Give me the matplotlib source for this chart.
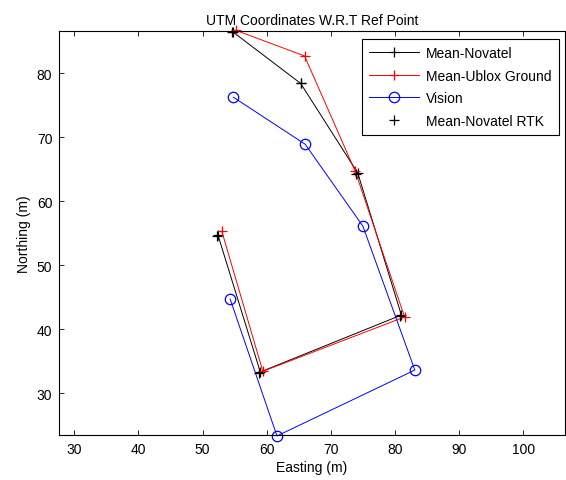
import matplotlib.pyplot as plt

plt.rcParams['font.family'] = ['Liberation Sans', 'DejaVu Sans']
plt.rcParams['font.size'] = 10

# mean positions along the route (easting, northing in metres)
novatel_e = [52.4, 59.0, 81.0, 74.2, 65.3, 54.8]
novatel_n = [54.7, 33.3, 42.2, 64.4, 78.4, 86.4]

ublox_e = [53.0, 59.4, 81.5, 73.8, 65.9, 55.2]
ublox_n = [55.3, 33.4, 41.9, 64.7, 82.7, 86.7]

vision_e = [54.3, 61.6, 83.1, 75.0, 66.0, 54.8]
vision_n = [44.7, 23.3, 33.6, 56.1, 68.9, 76.25]

rtk_e = [52.2, 58.8, 80.8, 74.0, 65.4, 54.6]
rtk_n = [54.6, 33.1, 42.0, 64.2, 78.5, 86.5]

fig = plt.figure(figsize=(5.66, 4.81), dpi=100)
ax = fig.add_axes([0.1048, 0.0942, 0.8932, 0.8393])

ax.plot(novatel_e, novatel_n, color='k', lw=0.7, marker='+', ms=7, mew=0.9,
        label='Mean-Novatel', clip_on=False)
ax.plot(ublox_e, ublox_n, color='r', lw=0.7, marker='+', ms=7, mew=0.9,
        label='Mean-Ublox Ground', clip_on=False)
ax.plot(vision_e, vision_n, color='b', lw=0.7, marker='o', ms=7.5, mew=0.9,
        mfc='none', label='Vision', clip_on=False)
ax.plot(rtk_e, rtk_n, color='k', ls='none', marker='+', ms=7, mew=0.9,
        label='Mean-Novatel RTK', clip_on=False)

ax.set_xlim(27.66, 106.5)
ax.set_ylim(23.5, 86.6)
ax.set_xticks(range(30, 101, 10))
ax.set_yticks(range(30, 81, 10))
ax.tick_params(direction='in', length=3.5, width=0.6, top=True, right=False,
               labelsize=10, pad=5)
for s in ax.spines.values():
    s.set_linewidth(0.8)

ax.set_title('UTM Coordinates W.R.T Ref Point', fontsize=10, pad=5)
ax.set_xlabel('Easting (m)', fontsize=10, labelpad=3)
ax.set_ylabel('Northing (m)', fontsize=10, labelpad=4)

leg = ax.legend(loc='upper right', bbox_to_anchor=(0.988, 0.98),
                fancybox=False, framealpha=1, edgecolor='k',
                handlelength=3.6, borderpad=0.5, labelspacing=0.62,
                handletextpad=0.5, borderaxespad=0)
leg.get_frame().set_linewidth(0.8)

fig.savefig('out.png', dpi=100)
